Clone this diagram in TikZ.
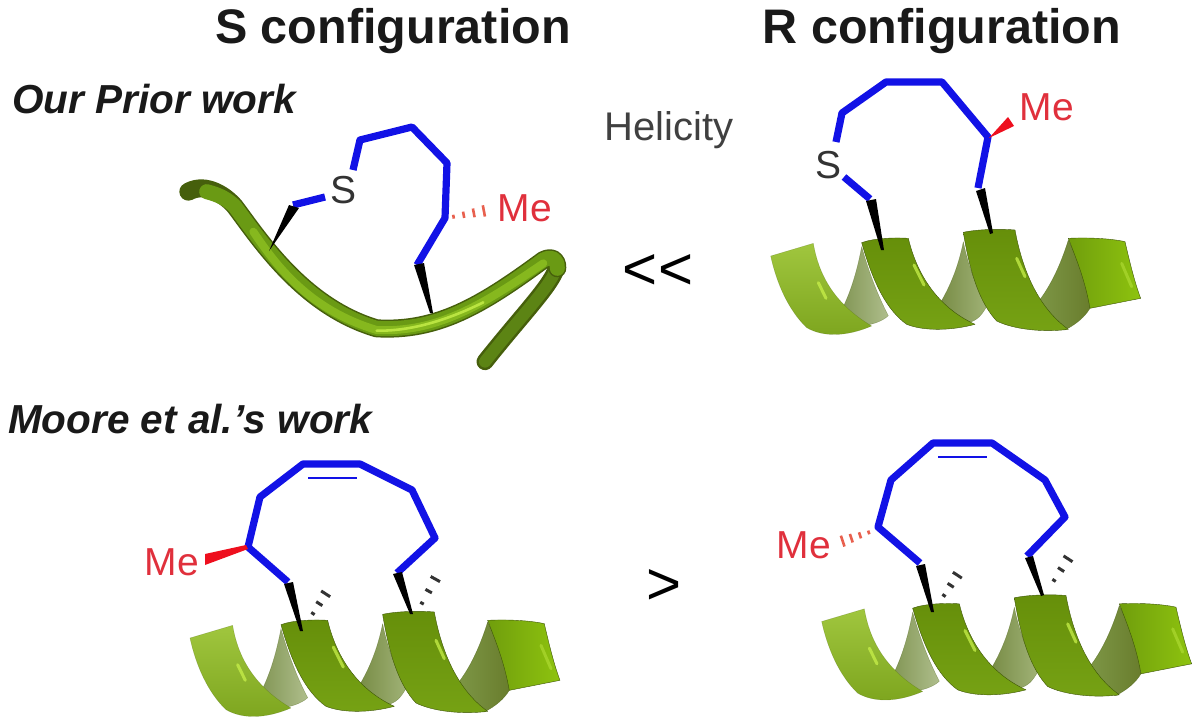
\documentclass[tikz,border=0pt]{standalone}
\usepackage{fontspec}
\setmainfont{Liberation Sans}
\usetikzlibrary{calc}
\definecolor{bondblue}{HTML}{1212E6}
\definecolor{mered}{HTML}{E0303C}
\definecolor{wedgered}{HTML}{EE0F1E}
\definecolor{hashred}{HTML}{E8604E}
\definecolor{edgeolive}{HTML}{3E5508}
\definecolor{hlight}{HTML}{C8F04A}
\definecolor{ribtop}{HTML}{668F0A}
\definecolor{ribmid}{HTML}{84B80C}
\definecolor{ribbot}{HTML}{76A214}
\definecolor{tubedark}{HTML}{465F0C}
\definecolor{tubemid}{HTML}{6A9A14}
\definecolor{tubelight}{HTML}{86B81E}
\tikzset{
  bond/.style={draw=bondblue,line width=7.2pt,line join=round,line cap=butt},
  thinbond/.style={draw=bondblue,line width=2.4pt},
  wedgeblack/.style={fill=black},
  wedgeredf/.style={fill=wedgered},
  lab/.style={font=\fontsize{39}{39}\selectfont,inner sep=0pt,text=mered},
  heading/.style={font=\fontsize{48.5}{48}\bfseries\selectfont,inner sep=0pt,anchor=base,text=black!90},
  work/.style={font=\fontsize{40.5}{39}\bfseries\itshape\selectfont,inner sep=0pt,anchor=base west,text=black!90},
  atomlab/.style={font=\fontsize{39}{39}\selectfont,inner sep=0pt,text=black!80},
  cmp/.style={font=\fontsize{60}{60}\selectfont,inner sep=0pt,text=black},
  rib/.style={draw=edgeolive,line width=.4pt,line join=round},
  hl/.style={draw=hlight,line width=3pt,line cap=round,opacity=.75},
}
% dashed wedge: args start, end, number of strokes, half width at end, colour, stroke width
\newcommand{\hashwedge}[6]{
  \foreach \k in {0,...,#3}{
    \pgfmathsetmacro{\tt}{(\k+.15)/(#3+.15)}
    \pgfmathsetmacro{\hw}{#4*(.25+.75*\tt)}
    \draw[draw=#5,line width=#6] ($($#1!\tt!#2$)!\hw pt!90:#2$) -- ($($#1!\tt!#2$)!\hw pt!-90:#2$);
  }
}
\newcommand{\helix}[2]{
\begin{scope}[shift={(#1,#2)},x=.33333pt,y=-.33333pt]
  % strands behind
  \path[rib,draw opacity=.4,left color={rgb,255:red,130;green,150;blue,85},right color={rgb,255:red,175;green,190;blue,140}]
    (305,560) .. controls (290,640) and (270,700) .. (245,750) .. controls (270,790) and (290,795) .. (310,797) .. controls (350,792) and (375,777) .. (385,767) .. controls (350,700) and (325,630) .. (305,560) -- cycle;
  \path[rib,draw opacity=.4,left color={rgb,255:red,120;green,140;blue,70},right color={rgb,255:red,160;green,178;blue,118}]
    (610,545) .. controls (595,620) and (570,680) .. (540,730) .. controls (570,760) and (600,775) .. (630,787) .. controls (660,777) and (670,755) .. (680,740) .. controls (650,680) and (625,620) .. (610,545) -- cycle;
  \path[rib,draw opacity=.5,left color={rgb,255:red,125;green,150;blue,70},right color={rgb,255:red,105;green,125;blue,45}]
    (925,540) .. controls (900,620) and (870,680) .. (835,725) .. controls (850,770) and (880,800) .. (915,810) .. controls (950,792) and (975,770) .. (990,745) -- (975,640) -- (925,540) -- cycle;
  % front ribbons
  \path[rib,draw opacity=.3,top color={rgb,255:red,160;green,198;blue,62},bottom color={rgb,255:red,125;green,165;blue,30}]
    (32,588) -- (160,550) .. controls (175,640) and (220,730) .. (335,798) .. controls (260,830) and (190,832) .. (140,803) .. controls (85,750) and (50,670) .. (32,588) -- cycle;
  \path[rib,top color=ribtop,middle color=ribmid,bottom color=ribbot]
    (305,548) .. controls (340,535) and (400,532) .. (445,535) .. controls (470,640) and (530,740) .. (645,793) .. controls (570,813) and (490,813) .. (440,793) .. controls (380,750) and (340,670) .. (305,548) -- cycle;
  \path[rib,top color=ribtop,middle color=ribmid,bottom color=ribbot]
    (610,517) .. controls (650,508) and (720,506) .. (765,510) .. controls (785,620) and (830,740) .. (925,808) .. controls (850,818) and (760,808) .. (710,783) .. controls (660,730) and (630,640) .. (610,517) -- cycle;
  \path[rib,left color={rgb,255:red,112;green,158;blue,12},right color={rgb,255:red,142;green,195;blue,15}]
    (925,535) .. controls (980,532) and (1050,535) .. (1095,545) .. controls (1110,610) and (1125,670) .. (1142,715) -- (990,745) .. controls (975,660) and (950,600) .. (925,535) -- cycle;
  % highlights
  \draw[hl] (175,668) -- (198,715);
  \draw[hl] (462,615) -- (492,675);
  \draw[hl] (770,595) -- (795,650);
  \draw[hl,opacity=.4] (1085,610) -- (1115,680);
\end{scope}
}
\begin{document}
\begin{tikzpicture}[x=1pt,y=-1pt]
\useasboundingbox (0,0) rectangle (1200,728);
% headings
\node[heading] (hs) at (393,43) {S configuration};
\node[heading] (hr) at (942,43) {R configuration};
\node[work] (wp) at (12,113) {Our Prior work};
\node[work] (wm) at (8,433) {Moore et al.'s work};
\node[font=\fontsize{40}{40}\selectfont,inner sep=0pt,text=black!75] (hel) at (669,130) {Helicity};
\node[cmp] (c1) at (658,272) {<{}\kern1pt<};
\node[cmp] (c2) at (664,587) {>};

% helices
\helix{760}{60}
\helix{179.3}{442}
\helix{811}{425.5}

% top-left tube
\begin{scope}[shift={(170,110)},x=.33333pt,y=-.33333pt]
  \draw[draw=tubedark,line width=17pt,line cap=round] (1160,470) .. controls (1150,520) and (1060,610) .. (945,755);
  \draw[draw={rgb,255:red,92;green,132;blue,20},line width=12pt,line cap=round] (1160,470) .. controls (1150,520) and (1060,610) .. (945,755);
  \draw[draw=tubedark,line width=18pt,line cap=round,line join=round] (55,245) .. controls (110,215) and (170,260) .. (195,290) .. controls (270,390) and (400,590) .. (620,655) .. controls (800,665) and (930,590) .. (1120,450) .. controls (1150,435) and (1165,455) .. (1162,475);
  \draw[draw=tubemid,line width=15pt,line cap=round,line join=round] (110,245) .. controls (150,255) and (175,270) .. (195,290) .. controls (270,390) and (400,590) .. (620,655) .. controls (800,665) and (930,590) .. (1120,450) .. controls (1150,435) and (1165,455) .. (1162,475);
  \draw[draw=tubelight,line width=8pt,line cap=round] (250,365) .. controls (320,470) and (420,600) .. (620,660) .. controls (800,668) and (930,590) .. (1120,460);
  \draw[draw=hlight,line width=2.6pt,line cap=round,opacity=.8] (620,662) .. controls (720,664) and (830,632) .. (940,577);
\end{scope}

% TOP LEFT molecule
\node[atomlab] (sa) at (344,190) {S};
\node[lab] (mea) at (525,208) {Me};
\draw[bond] (353,170) -- (360,140) -- (412,127) -- (447,163) -- (445,218) -- (417,265);
\draw[bond] (325,197) -- (293,205);
\fill[wedgeblack] (289,205) -- (299,208) -- (269,251) -- cycle;
\fill[wedgeblack] (414,265) -- (424,263) -- (433,313) -- (430,313) -- cycle;
\hashwedge{(452,217)}{(494,209)}{4}{7}{hashred}{2.6pt}

% TOP RIGHT molecule
\node[atomlab] (sb) at (828,165) {S};
\node[lab] (meb) at (1047,107) {Me};
\draw[bond] (836,142) -- (842,113) -- (886,82) -- (942,82) -- (988,137) -- (978,188);
\draw[bond] (844,177) -- (870,199);
\fill[wedgeblack] (866,201) -- (876,199) -- (884,250) -- (881,250) -- cycle;
\fill[wedgeblack] (976,191) -- (985,188) -- (993,233) -- (990,234) -- cycle;
\fill[wedgeredf] (989,138) -- (1014,126) -- (1008,117) -- cycle;

% BOTTOM LEFT molecule
\node[lab] (mec) at (172,562) {Me};
\draw[bond] (288,582) -- (248,547) -- (260,497) -- (303,464) -- (360,464) -- (412,490) -- (435,538) -- (397,573);
\draw[thinbond] (308,478) -- (357,478);
\fill[wedgeredf] (246,545) -- (205,554) -- (205,565) -- (248,549) -- cycle;
\fill[wedgeblack] (284,584) -- (293,582) -- (303,631) -- (300,631) -- cycle;
\fill[wedgeblack] (393,574) -- (402,572) -- (413,614) -- (410,614) -- cycle;
\hashwedge{(312,615)}{(332,584)}{3}{7}{black!80}{3pt}
\hashwedge{(421,605)}{(442,567)}{3}{7}{black!80}{3pt}

% BOTTOM RIGHT molecule
\node[lab] (med) at (804,545) {Me};
\draw[bond] (920,563) -- (878,527) -- (891,480) -- (933,443) -- (992,443) -- (1045,480) -- (1065,517) -- (1027,556);
\draw[thinbond] (938,457) -- (987,457);
\fill[wedgeblack] (916,566) -- (925,564) -- (934,612) -- (931,612) -- cycle;
\fill[wedgeblack] (1025,558) -- (1033,556) -- (1044,595) -- (1041,596) -- cycle;
\hashwedge{(943,597)}{(964,565)}{3}{7}{black!80}{3pt}
\hashwedge{(1053,582)}{(1075,548)}{3}{7}{black!80}{3pt}
\hashwedge{(870,532)}{(834,544)}{4}{7}{hashred}{2.6pt}
\end{tikzpicture}
\end{document}
